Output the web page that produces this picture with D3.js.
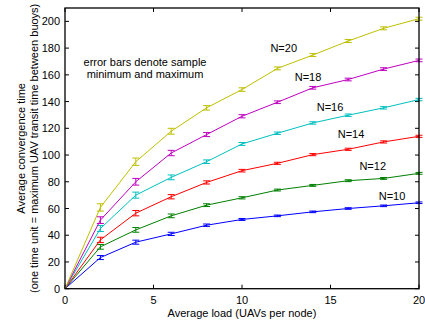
<!DOCTYPE html>
<html><head><meta charset="utf-8">
<script src="https://cdn.jsdelivr.net/npm/d3@7"></script>
<style>body{margin:0;background:#fff}svg{display:block}text{font-family:"Liberation Sans",Arial,sans-serif;}</style>
</head><body>
<script>
const loads = [0,2,4,6,8,10,12,14,16,18,20];
const seriesNames = ["N=10","N=12","N=14","N=16","N=18","N=20"];
const n10 = [0,23.3,34.8,41,47.5,51.8,54.5,57.5,60,62,64.3];
const n12 = [0,31.3,44,54.5,62.5,68,73.8,77.3,80.8,82.5,86.3];
const n14 = [0,36.5,56.5,68.8,79.5,88.3,93.8,100.3,104.3,109.8,114];
const n16 = [0,45,70,83.3,95,108.3,116.3,124,129.8,135.3,141.5];
const n18 = [0,51.3,80,101.5,115.3,129,139.5,150.3,156.5,164.3,170.8];
const n20 = [0,60.8,95,117.8,135.3,149,164.8,174.8,185.3,194.8,202];
const errHalf = [0,2.5,2.5,2,1.5,1.2,1,1,1,1,1];
const xTicks = [0,5,10,15,20];
const yTicks = [0,20,40,60,80,100,120,140,160,180,200];
const colors = ["#0000ff","#008000","#ff0000","#00bfbf","#bf00bf","#bfbf00"];
const labelPos = [[392,196],[372.7,166],[351,134],[330,107],[308,77],[283.7,48]];
const allSeries = [n10,n12,n14,n16,n18,n20];

const W=425,H=322;
const L=65,R=419,T=8,B=288.7;
const svg=d3.select("body").append("svg").attr("width",W).attr("height",H);
const x=d3.scaleLinear().domain([0,20]).range([L,R]);
const y=d3.scaleLinear().domain([0,210]).range([B,T]);

// ticks inside
const g=svg.append("g");
xTicks.forEach(t=>{
  g.append("line").attr("x1",x(t)).attr("x2",x(t)).attr("y1",B).attr("y2",B-4).attr("stroke","#000");
  g.append("line").attr("x1",x(t)).attr("x2",x(t)).attr("y1",T).attr("y2",T+4).attr("stroke","#000");
  g.append("text").attr("x",x(t)).attr("y",B+15).attr("text-anchor","middle").attr("font-size",11).text(t);
});
yTicks.forEach(t=>{
  g.append("line").attr("x1",L).attr("x2",L+4).attr("y1",y(t)).attr("y2",y(t)).attr("stroke","#000");
  g.append("line").attr("x1",R).attr("x2",R-4).attr("y1",y(t)).attr("y2",y(t)).attr("stroke","#000");
  g.append("text").attr("x",L-5).attr("y",y(t)+4).attr("text-anchor","end").attr("font-size",11).text(t);
});

const line=d3.line().x((d,i)=>x(loads[i])).y(d=>y(d));
allSeries.forEach((s,k)=>{
  svg.append("path").attr("d",line(s)).attr("fill","none").attr("stroke",colors[k]).attr("stroke-width",1);
  s.forEach((v,i)=>{
    if(i===0) return;
    const e=errHalf[i]*(0.6+0.1*k);
    const cx=x(loads[i]);
    const gg=svg.append("g").attr("stroke",colors[k]).attr("stroke-width",1);
    gg.append("line").attr("x1",cx).attr("x2",cx).attr("y1",y(v-e)).attr("y2",y(v+e));
    gg.append("line").attr("x1",cx-3.5).attr("x2",cx+3.5).attr("y1",y(v-e)).attr("y2",y(v-e));
    gg.append("line").attr("x1",cx-3.5).attr("x2",cx+3.5).attr("y1",y(v+e)).attr("y2",y(v+e));
  });
  svg.append("text").attr("x",labelPos[k][0]).attr("y",labelPos[k][1]+4).attr("text-anchor","middle").attr("font-size",11).text(seriesNames[k]);
});

svg.append("rect").attr("x",L).attr("y",T).attr("width",R-L).attr("height",B-T).attr("fill","none").attr("stroke","#000").attr("stroke-width",1.3);

svg.append("text").attr("x",145).attr("y",66).attr("text-anchor","middle").attr("font-size",11).text("error bars denote sample");
svg.append("text").attr("x",145).attr("y",77.5).attr("text-anchor","middle").attr("font-size",11).text("minimum and maximum");

svg.append("text").attr("x",(L+R)/2).attr("y",317).attr("text-anchor","middle").attr("font-size",11).text("Average load (UAVs per node)");
const cy=(T+B)/2;
svg.append("text").attr("transform",`translate(25,${cy}) rotate(-90)`).attr("text-anchor","middle").attr("font-size",11).text("Average convergence time");
svg.append("text").attr("transform",`translate(38,${cy}) rotate(-90)`).attr("text-anchor","middle").attr("font-size",11).text("(one time unit = maximum UAV transit time between buoys)");
</script>
</body></html>
